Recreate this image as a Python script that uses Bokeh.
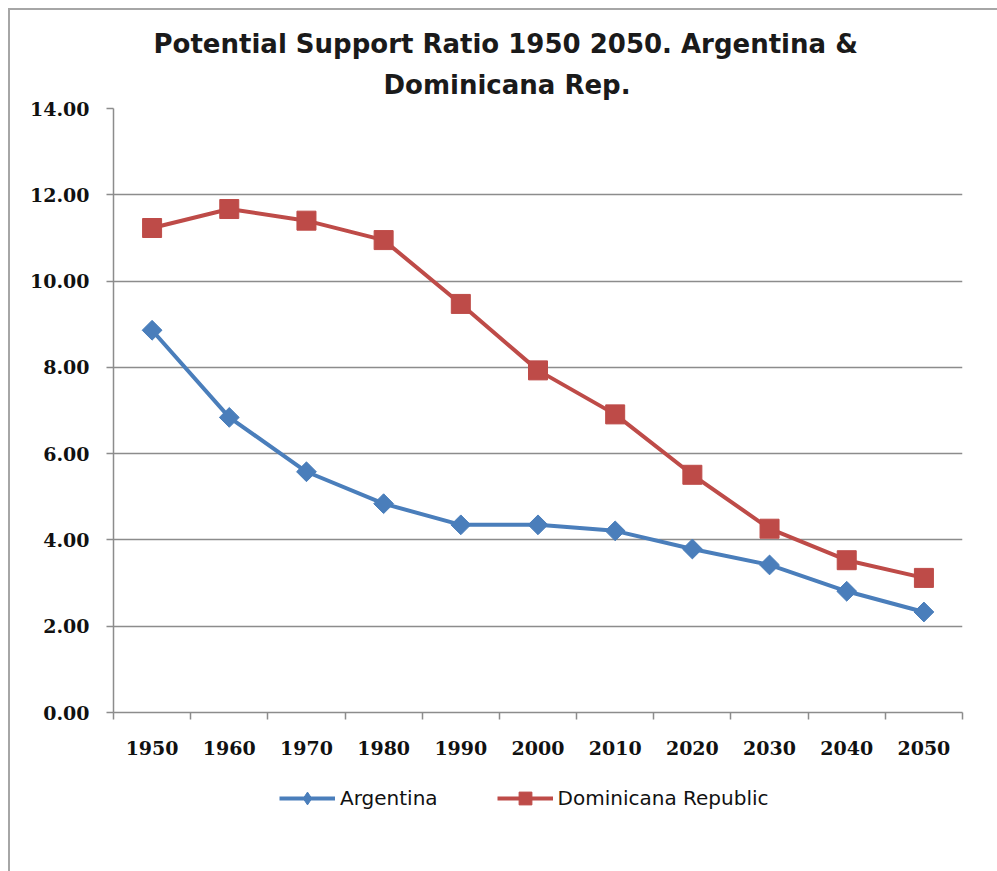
from bokeh.plotting import figure
from bokeh.layouts import column
from bokeh.models import (ColumnDataSource, FixedTicker, NumeralTickFormatter,
                          Legend, LegendItem, Title, Range1d)
from bokeh.embed import file_html
from bokeh.resources import INLINE
import math

# Potential support ratio by decade
years = [1950, 1960, 1970, 1980, 1990, 2000, 2010, 2020, 2030, 2040, 2050]
argentina = [8.86, 6.84, 5.58, 4.84, 4.35, 4.35, 4.21, 3.79, 3.42, 2.81, 2.33]
dominicana = [11.23, 11.67, 11.40, 10.95, 9.47, 7.93, 6.91, 5.51, 4.26, 3.53, 3.12]
y_ticks = [0, 2, 4, 6, 8, 10, 12, 14]
series_names = ["Argentina", "Dominicana Republic"]

title_line1 = "Potential Support Ratio 1950 2050. Argentina &"
title_line2 = "Dominicana Rep."

BLUE = "#4a7ebb"
RED = "#be4b48"
GRID = "#8c8c8c"
BORDER = "#a6a6a6"
TICK_FONT = "DejaVu Serif"
SANS = "DejaVu Sans"

src = ColumnDataSource(dict(year=years, arg=argentina, dom=dominicana))

# chart area sits 8px in from the window edge, framed on top and left
p = figure(frame_width=847, frame_height=602,
           output_backend="svg", toolbar_location=None,
           x_range=Range1d(1945, 2055), y_range=Range1d(0, 14),
           min_border_left=103, min_border_right=37,
           min_border_top=98, min_border_bottom=62,
           margin=(8, 0, 0, 8),
           styles={"border-top": f"2px solid {BORDER}",
                   "border-left": f"2px solid {BORDER}"})
p.background_fill_color = "white"
p.border_fill_color = "white"
p.outline_line_color = None

# two-line title, centred over the whole chart area rather than the plot frame
p.title = Title(text=title_line1, align="left", offset=40, text_font=SANS,
                text_font_size="26px", text_font_style="bold",
                text_color="#1a1a1a", standoff=2)
p.add_layout(Title(text=title_line2, align="left", offset=270, text_font=SANS,
                   text_font_size="26px", text_font_style="bold",
                   text_color="#1a1a1a", standoff=17), "above")

# x axis: labels at decade centres, tick marks between categories
xa = p.xaxis[0]
xa.ticker = FixedTicker(ticks=years,
                        minor_ticks=[y - 5 for y in years] + [years[-1] + 5])
xa.major_tick_out = 0
xa.major_tick_in = 0
xa.minor_tick_out = 7
xa.minor_tick_in = 0
xa.minor_tick_line_color = GRID
xa.minor_tick_line_width = 1.5
xa.axis_line_color = GRID
xa.axis_line_width = 1.5
xa.major_label_text_font = TICK_FONT
xa.major_label_text_font_style = "bold"
xa.major_label_text_font_size = "19px"
xa.major_label_text_color = "#111111"
xa.major_label_standoff = 21

ya = p.yaxis[0]
ya.ticker = FixedTicker(ticks=y_ticks)
ya.formatter = NumeralTickFormatter(format="0.00")
ya.major_tick_out = 7
ya.major_tick_in = 0
ya.minor_tick_line_color = None
ya.major_tick_line_color = GRID
ya.major_tick_line_width = 1.5
ya.axis_line_color = GRID
ya.axis_line_width = 1.5
ya.major_label_text_font = TICK_FONT
ya.major_label_text_font_style = "bold"
ya.major_label_text_font_size = "19px"
ya.major_label_text_color = "#111111"
ya.major_label_standoff = 17

p.xgrid.grid_line_color = None
p.ygrid.ticker = FixedTicker(ticks=y_ticks)
p.ygrid.grid_line_color = GRID
p.ygrid.grid_line_width = 1.5


def draw_series(fig, ycol, color, marker, size, angle):
    ln = fig.line("year", ycol, source=src, line_color=color, line_width=4)
    mk = fig.scatter("year", ycol, source=src, marker=marker, size=size,
                     angle=angle, fill_color=color, line_color=color)
    return ln, mk


draw_series(p, "arg", BLUE, "square", 14, math.pi / 4)
draw_series(p, "dom", RED, "square", 19, 0)

# legend strip below the axis, sharing the chart area's left border;
# its series sit outside its ranges so only the legend keys show
lf = figure(frame_width=987, frame_height=99, output_backend="svg",
            toolbar_location=None, x_axis_location=None, y_axis_location=None,
            x_range=Range1d(0, 1), y_range=Range1d(0, 1),
            min_border=0, margin=(0, 0, 0, 8),
            styles={"border-left": f"2px solid {BORDER}"})
lf.outline_line_color = None
lf.xgrid.grid_line_color = None
lf.ygrid.grid_line_color = None
lf.border_fill_color = "white"

a_ln, a_mk = draw_series(lf, "arg", BLUE, "diamond", 14, 0)
d_ln, d_mk = draw_series(lf, "dom", RED, "square", 14, 0)

legend = Legend(items=[LegendItem(label=series_names[0], renderers=[a_ln, a_mk]),
                       LegendItem(label=series_names[1], renderers=[d_ln, d_mk])],
                orientation="horizontal", location=(269, 57),
                glyph_width=56, glyph_height=32, spacing=59,
                label_text_font=SANS, label_text_font_size="20px",
                label_text_color="#111111", label_standoff=5,
                border_line_color=None, background_fill_alpha=0,
                margin=0, padding=0)
lf.add_layout(legend, "center")

open("out.html", "w").write(file_html(column(p, lf, spacing=0), INLINE))
